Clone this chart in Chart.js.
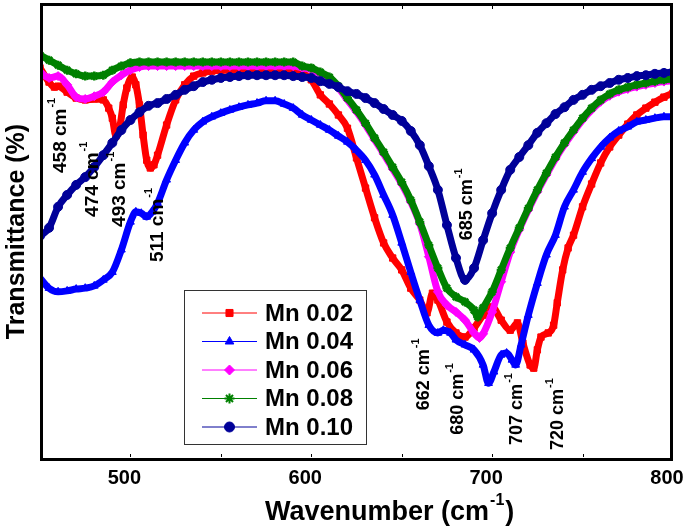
<!DOCTYPE html>
<html><head><meta charset="utf-8">
<script src="https://cdn.jsdelivr.net/npm/chart.js@4.4.1/dist/chart.umd.min.js"></script>
<style>html,body{margin:0;padding:0;background:#fff;overflow:hidden}#wrap{width:685px;height:531px;position:relative}</style>
</head><body><div id="wrap"><canvas id="c" width="685" height="531"></canvas></div>
<script>
// ---- data (wavenumber cm-1, transmittance % arbitrary scale) ----
const seriesLabels = ['Mn 0.02', 'Mn 0.04', 'Mn 0.06', 'Mn 0.08', 'Mn 0.10'];

const mn002_wn = [450,455,458,460,465,470,475,480,485,488,490,492,494,496,498,501,503,505,507,509,511,513,515,520,525,530,535,540,545,550,555,560,565,570,575,580,585,590,595,600,605,610,615,620,625,630,635,640,645,650,655,660,664,667,670,675,680,685,690,695,700,705,710,714,717,721,723,725,727,731,734,736,739,742,745,750,755,760,765,770,775,780,785,790,795,800];
const mn002_T  = [85.8,82.7,81.6,81.8,80.5,79.2,78.8,79.0,78.8,77.0,74.8,70.9,72.6,77.7,81.4,83.8,82.1,77.7,71.1,65.6,63.9,64.6,66.7,73.3,78.8,82.1,84.0,84.7,85.1,85.3,85.3,85.3,85.3,85.3,85.3,85.3,85.3,85.3,84.7,83.2,79.9,77.9,75.5,72.6,66.1,59.5,53.0,47.5,44.2,41.6,37.6,35.0,32.2,36.5,35.0,30.2,27.8,26.9,28.9,31.7,33.5,30.6,28.4,30.0,25.6,20.8,20.1,24.1,26.9,27.8,29.5,34.4,41.6,46.4,49.2,55.4,60.4,65.0,68.5,71.1,73.5,75.5,77.0,78.3,79.4,80.3];

const mn004_wn = [450,455,460,465,470,475,480,485,490,495,500,503,506,509,512,515,520,525,530,535,540,545,550,555,560,565,570,575,580,585,590,595,600,605,610,615,620,625,630,635,640,645,650,655,660,665,670,673,677,680,685,690,695,698,701,705,708,711,713,716,720,725,730,735,740,745,750,755,760,765,770,775,780,785,790,795,800];
const mn004_T  = [39.8,37.6,36.8,37.0,37.4,37.6,38.1,39.4,41.1,46.0,52.1,54.3,54.0,53.2,54.3,56.2,61.3,65.6,69.4,72.2,74.0,75.1,75.9,76.6,77.2,77.7,78.1,78.6,78.6,77.9,77.0,75.5,74.4,73.3,72.2,70.9,69.6,67.8,65.6,62.4,58.0,53.6,47.5,41.1,35.0,29.5,27.8,28.4,27.8,26.3,25.2,24.1,20.8,16.8,19.3,23.0,23.4,21.9,20.8,25.2,31.7,38.7,44.9,49.2,55.4,59.1,63.0,66.0,68.5,70.5,72.0,72.9,74.0,74.4,74.8,75.1,75.1];

const mn006_wn = [450,455,460,465,470,475,480,485,490,495,500,505,510,515,520,525,530,535,540,545,550,555,560,565,570,575,580,585,590,595,600,605,610,615,620,625,630,635,640,645,650,655,660,665,670,675,680,685,690,693,695,700,705,710,715,720,725,730,735,740,745,750,755,760,765,770,775,780,785,790,795,800];
const mn006_T  = [84.9,83.6,84.0,82.1,79.4,79.0,79.6,80.5,82.7,84.2,85.3,86.0,86.2,86.2,86.2,86.2,86.2,86.2,86.2,86.2,86.2,86.2,86.2,86.2,86.2,86.2,86.2,86.2,86.2,85.8,85.4,84.5,83.4,81.4,78.8,76.2,73.3,70.1,67.0,63.7,60.4,56.5,51.7,44.5,36.8,33.9,32.4,30.6,27.8,26.7,27.6,32.4,39.0,45.5,50.4,54.7,58.7,62.4,65.9,69.0,71.8,74.4,76.6,78.4,79.7,80.6,81.2,81.7,82.1,82.5,82.8,83.0];

const mn008_wn = [450,455,460,465,470,475,480,485,490,495,500,505,510,515,520,525,530,535,540,545,550,555,560,565,570,575,580,585,590,595,600,605,610,615,620,625,630,635,640,645,650,655,660,665,670,675,680,685,690,692,695,700,705,710,715,720,725,730,735,740,745,750,755,760,765,770,775,780,785,790,795,800];
const mn008_T  = [88.6,87.5,86.4,85.3,84.5,84.0,84.0,84.2,85.3,86.2,86.9,87.1,87.1,87.1,87.1,87.1,87.1,87.1,87.1,87.1,87.1,87.1,87.1,87.1,87.1,87.1,87.1,87.1,87.1,86.2,85.8,84.9,83.8,81.8,79.2,76.6,73.7,70.5,67.4,64.1,60.8,56.9,52.1,47.0,42.0,37.6,35.7,34.6,32.8,31.3,33.3,36.8,41.6,46.4,50.8,55.1,59.1,62.8,66.3,69.4,72.2,74.8,77.0,78.8,80.1,81.0,81.6,82.1,82.5,82.9,83.2,83.4];

const mn010_wn = [450,455,460,465,470,475,480,485,490,495,500,505,510,515,520,525,530,535,540,545,550,555,560,565,570,575,580,585,590,595,600,605,610,615,620,625,630,635,640,645,650,655,660,665,670,675,680,685,690,695,700,705,710,715,720,725,730,735,740,745,750,755,760,765,770,775,780,785,790,795,800];
const mn010_T  = [49.0,50.8,55.4,58.0,60.2,61.9,64.1,66.7,69.4,72.2,74.4,76.1,77.5,78.1,79.0,79.9,81.0,81.8,82.7,83.2,83.6,83.8,84.0,84.2,84.2,84.2,84.2,84.2,84.0,83.8,83.6,82.9,82.3,81.6,80.7,80.1,79.2,78.1,76.8,75.5,74.2,72.0,68.9,64.3,59.1,51.4,44.2,39.4,42.0,48.1,54.0,59.1,63.5,66.3,68.9,71.6,73.7,75.7,77.2,78.8,79.9,81.0,81.8,82.5,83.2,83.6,84.0,84.2,84.5,84.7,84.9];

const xTicks = [500, 600, 700, 800];

// peak annotations: text, wavenumber anchor, transmittance anchor, font size
const peakText = ['458 cm','474 cm','493 cm','511 cm','685 cm','662 cm','680 cm','707 cm','720 cm'];
const peakWn   = [461.5, 478.9, 493.9, 515.0, 686.1, 662.3, 681.2, 713.9, 736.6];
const peakT    = [62.8, 53.2, 51.0, 43.3, 48.1, 10.9, 5.5, 3.3, 2.2];
const peakSize = [19, 19, 19, 19, 18, 18, 18, 18, 18];

// ---- styling ----
const FONT = '"Liberation Sans", Arial, Helvetica, sans-serif';
const colors = ['#ff0000', '#0000ff', '#ff00ff', '#008000', '#000099'];
const styles = ['rect', 'triangle', 'rectRot', 'star', 'circle'];
const wnArrays = [mn002_wn, mn004_wn, mn006_wn, mn008_wn, mn010_wn];
const tArrays = [mn002_T, mn004_T, mn006_T, mn008_T, mn010_T];

const datasets = seriesLabels.map((lab, i) => ({
  label: lab,
  data: wnArrays[i].map((w, k) => ({x: w, y: tArrays[i][k]})),
  borderColor: colors[i],
  backgroundColor: colors[i],
  pointBackgroundColor: colors[i],
  pointBorderColor: colors[i],
  borderWidth: 7,
  pointStyle: styles[i],
  pointRadius: 4.5,
  pointBorderWidth: styles[i] === 'star' ? 2.5 : 1,
  cubicInterpolationMode: 'monotone',
  fill: false,
  order: 5 - i
}));

function drawSup(ctx, main, sup, size, x, y) {
  ctx.font = 'bold ' + size + 'px ' + FONT;
  ctx.textAlign = 'left';
  ctx.textBaseline = 'middle';
  ctx.fillText(main, x, y);
  const m = ctx.measureText(main).width;
  const ss = Math.round(size * 0.6);
  ctx.font = 'bold ' + ss + 'px ' + FONT;
  ctx.fillText(sup, x + m + 1, y - size * 0.45);
  return m + 1 + ctx.measureText(sup).width;
}

const decor = {
  id: 'decor',
  afterDraw(chart) {
    const ctx = chart.ctx;
    const a = chart.chartArea;
    const xs = chart.scales.x, ys = chart.scales.y;
    ctx.save();
    // frame
    ctx.strokeStyle = '#000';
    ctx.lineWidth = 3;
    ctx.strokeRect(a.left + 1.5, a.top + 1.5, a.right - a.left - 3, a.bottom - a.top - 2);
    // small inward ticks
    ctx.lineWidth = 1;
    for (let v = 500; v < 800; v += 50) {
      const px = Math.round(xs.getPixelForValue(v)) + 0.5;
      ctx.beginPath();
      ctx.moveTo(px, a.bottom - 3); ctx.lineTo(px, a.bottom - 6);
      ctx.moveTo(px, a.top + 3); ctx.lineTo(px, a.top + 6);
      ctx.stroke();
    }
    // peak labels
    ctx.fillStyle = '#000';
    for (let i = 0; i < peakText.length; i++) {
      const px = xs.getPixelForValue(peakWn[i]);
      const py = ys.getPixelForValue(peakT[i]);
      ctx.save();
      ctx.translate(px, py);
      ctx.rotate(-Math.PI / 2);
      drawSup(ctx, peakText[i], '-1', peakSize[i], 0, 0);
      ctx.restore();
    }
    // legend box
    const lx = 184, ly = 290, lw = 182, lh = 154;
    ctx.fillStyle = '#fff';
    ctx.fillRect(lx, ly, lw, lh);
    ctx.strokeStyle = '#333';
    ctx.lineWidth = 1;
    ctx.strokeRect(lx + 0.5, ly + 0.5, lw, lh);
    chart.data.datasets.forEach((ds, i) => {
      const y = ly + 23 + i * 28.5;
      ctx.strokeStyle = ds.borderColor;
      ctx.lineWidth = 1;
      ctx.beginPath();
      ctx.moveTo(202, y); ctx.lineTo(257, y);
      ctx.stroke();
      ctx.fillStyle = ds.borderColor;
      ctx.strokeStyle = ds.borderColor;
      ctx.lineWidth = ds.pointStyle === 'star' ? 2 : 1;
      Chart.helpers.drawPoint(ctx, {pointStyle: ds.pointStyle, radius: 5, borderWidth: ctx.lineWidth, rotation: 0}, 229.5, y);
      ctx.fillStyle = '#000';
      ctx.font = 'bold 24px ' + FONT;
      ctx.textAlign = 'left';
      ctx.textBaseline = 'middle';
      ctx.fillText(ds.label, 265, y + 1);
    });
    // x title
    ctx.fillStyle = '#000';
    const tx = 265, ty = 513;
    const w1 = drawSup(ctx, 'Wavenumber (cm', '-1', 27, tx, ty);
    ctx.font = 'bold 27px ' + FONT;
    ctx.textBaseline = 'middle';
    ctx.fillText(')', tx + w1 + 1, ty);
    ctx.restore();
  }
};

new Chart(document.getElementById('c').getContext('2d'), {
  type: 'line',
  data: {datasets},
  options: {
    responsive: false,
    animation: false,
    events: [],
    layout: {autoPadding: false, padding: {top: 3, right: 12, left: 0, bottom: 0}},
    plugins: {legend: {display: false}, tooltip: {enabled: false}},
    scales: {
      x: {
        type: 'linear', min: 450, max: 800,
        afterFit: s => { s.height = 71; s.paddingLeft = 0; s.paddingRight = 0; },
        grid: {display: false, drawTicks: false},
        border: {display: false},
        afterBuildTicks: s => { s.ticks = xTicks.map(v => ({value: v})); },
        ticks: {padding: 6, labelOffset: -6, color: '#000', autoSkip: false, maxRotation: 0,
                font: {family: FONT, size: 20, weight: 'bold'}}
      },
      y: {
        min: 0, max: 100,
        afterFit: s => { s.width = 40; s.paddingTop = 0; s.paddingBottom = 0; },
        grid: {display: false, drawTicks: false},
        border: {display: false},
        ticks: {display: false},
        title: {display: true, text: 'Transmittance (%)', color: '#000', padding: {top: 2, bottom: 0},
                font: {family: FONT, size: 25, weight: 'bold'}}
      }
    }
  },
  plugins: [decor]
});
</script>
</body></html>
